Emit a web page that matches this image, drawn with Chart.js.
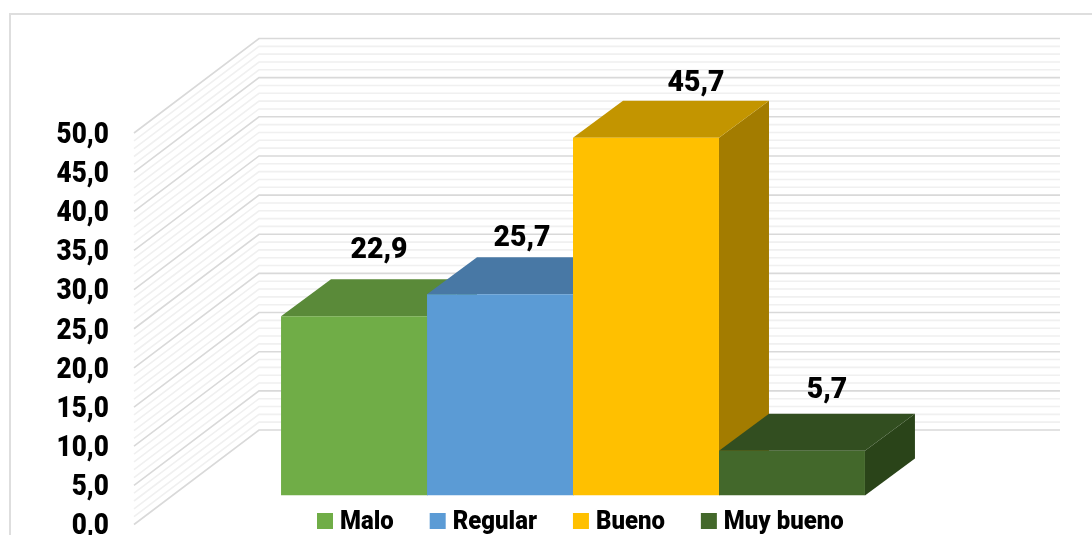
<!DOCTYPE html>
<html>
<head>
<meta charset="utf-8">
<script src="https://cdn.jsdelivr.net/npm/chart.js@4"></script>
<style>
    html, body { margin: 0; padding: 0; background: #fff; overflow: hidden; }
    #wrap { width: 1092px; height: 535px; }
</style>
</head>
<body>
<div id="wrap"><canvas id="myChart" width="1092" height="535"></canvas></div>
<script>
const categories = [''];
const seriesNames = ['Malo', 'Regular', 'Bueno', 'Muy bueno'];
const seriesValues = [22.9, 25.7, 45.7, 5.7];
const frontColors = ['#70ad47', '#5b9bd5', '#ffc000', '#43682b'];
const topColors = ['#5a8a39', '#4878a5', '#c39500', '#324e20'];
const sideColors = ['#4f7a32', '#3f6c95', '#a37c00', '#2a4419'];
const tickStep = 5;
const maxValue = 50;

const wall = { dx: 125, dy: 94.5, right: 1060 };
const barShift = { dx: 38.5, dy: 29 };
const barDepth = { dx: 50, dy: 37 };
// data labels were moved by hand in the original
const labelNudge = [[25, 47], [22, 37], [50, 35], [35, 42]];

function poly(ctx, pts, color) {
    ctx.fillStyle = color;
    ctx.beginPath();
    pts.forEach((p, i) => i ? ctx.lineTo(p[0], p[1]) : ctx.moveTo(p[0], p[1]));
    ctx.closePath();
    ctx.fill();
}

// the original font is a condensed bold, so squeeze Roboto a bit
function narrowText(ctx, str, x, y, size, squeeze) {
    ctx.save();
    ctx.font = '900 ' + size + 'px Roboto';
    ctx.translate(x, y);
    ctx.scale(squeeze, 1);
    ctx.fillText(str, 0, 0);
    ctx.restore();
}

const box3d = {
    id: 'box3d',
    beforeDraw(chart) {
        const ctx = chart.ctx;
        const yScale = chart.scales.y;
        const left = chart.chartArea.left;
        ctx.save();
        // outer frame
        ctx.strokeStyle = '#dedede';
        ctx.lineWidth = 2;
        ctx.beginPath();
        ctx.moveTo(10, 535);
        ctx.lineTo(10, 14);
        ctx.lineTo(1092, 14);
        ctx.stroke();
        // walls
        for (let v = 0; v <= maxValue; v++) {
            const y = yScale.getPixelForValue(v);
            ctx.strokeStyle = v % tickStep === 0 ? '#d9d9d9' : '#f0f0f0';
            ctx.lineWidth = 1.6;
            ctx.beginPath();
            ctx.moveTo(left, y);
            ctx.lineTo(left + wall.dx, y - wall.dy);
            ctx.lineTo(wall.right, y - wall.dy);
            ctx.stroke();
        }
        // tick labels
        ctx.fillStyle = '#000';
        ctx.textAlign = 'right';
        ctx.textBaseline = 'middle';
        yScale.ticks.forEach((t) => {
            narrowText(ctx, t.label, 109, yScale.getPixelForValue(t.value) + 2.5, 29, 0.9);
        });
        ctx.restore();
    },
    beforeDatasetsDraw(chart) {
        const ctx = chart.ctx;
        ctx.save();
        ctx.translate(barShift.dx, -barShift.dy);
        // top and side faces, left to right so the next bar paints over
        chart.data.datasets.forEach((ds, i) => {
            const bar = chart.getDatasetMeta(i).data[0];
            const l = bar.x - bar.width / 2;
            const r = bar.x + bar.width / 2;
            const t = bar.y;
            const b = bar.base;
            const dx = barDepth.dx;
            const dy = barDepth.dy;
            poly(ctx, [[r, t], [r + dx, t - dy], [r + dx, b - dy], [r, b]], sideColors[i]);
            poly(ctx, [[l, t], [r, t], [r + dx, t - dy], [l + dx, t - dy]], topColors[i]);
        });
    },
    afterDatasetsDraw(chart) {
        const ctx = chart.ctx;
        ctx.restore();
        ctx.save();
        ctx.fillStyle = '#000';
        ctx.textAlign = 'center';
        ctx.textBaseline = 'middle';
        chart.data.datasets.forEach((ds, i) => {
            const bar = chart.getDatasetMeta(i).data[0];
            const x = bar.x + barShift.dx + labelNudge[i][0];
            const y = bar.y - barShift.dy - barDepth.dy / 2 - labelNudge[i][1];
            narrowText(ctx, ds.data[0].toFixed(1).replace('.', ','), x, y, 29, 0.98);
        });
        // legend
        ctx.textAlign = 'left';
        let x = 317;
        chart.data.datasets.forEach((ds) => {
            ctx.fillStyle = ds.backgroundColor;
            ctx.fillRect(x, 513, 16, 16);
            ctx.fillStyle = '#000';
            narrowText(ctx, ds.label, x + 23, 522, 26, 0.92);
            ctx.font = '900 26px Roboto';
            x += 23 + ctx.measureText(ds.label).width * 0.92 + 36;
        });
        ctx.restore();
    }
};

const datasets = seriesNames.map((name, i) => ({
    label: name,
    data: [seriesValues[i]],
    backgroundColor: frontColors[i],
    categoryPercentage: 0.729,
    barPercentage: 1
}));

new Chart(document.getElementById('myChart'), {
    type: 'bar',
    data: { labels: categories, datasets: datasets },
    plugins: [box3d],
    options: {
        responsive: false,
        animation: false,
        layout: { padding: { top: 133, right: 157, bottom: 10.5, left: 0 } },
        plugins: { legend: { display: false }, tooltip: { enabled: false } },
        scales: {
            x: { display: false },
            y: {
                min: 0,
                max: maxValue,
                afterFit(scale) {
                    scale.width = 134;
                    scale.paddingTop = 0;
                    scale.paddingBottom = 0;
                },
                border: { display: false },
                grid: { display: false },
                ticks: {
                    display: false,
                    stepSize: tickStep,
                    autoSkip: false,
                    callback: (v) => v.toFixed(1).replace('.', ',')
                }
            }
        }
    }
});
</script>
</body>
</html>
